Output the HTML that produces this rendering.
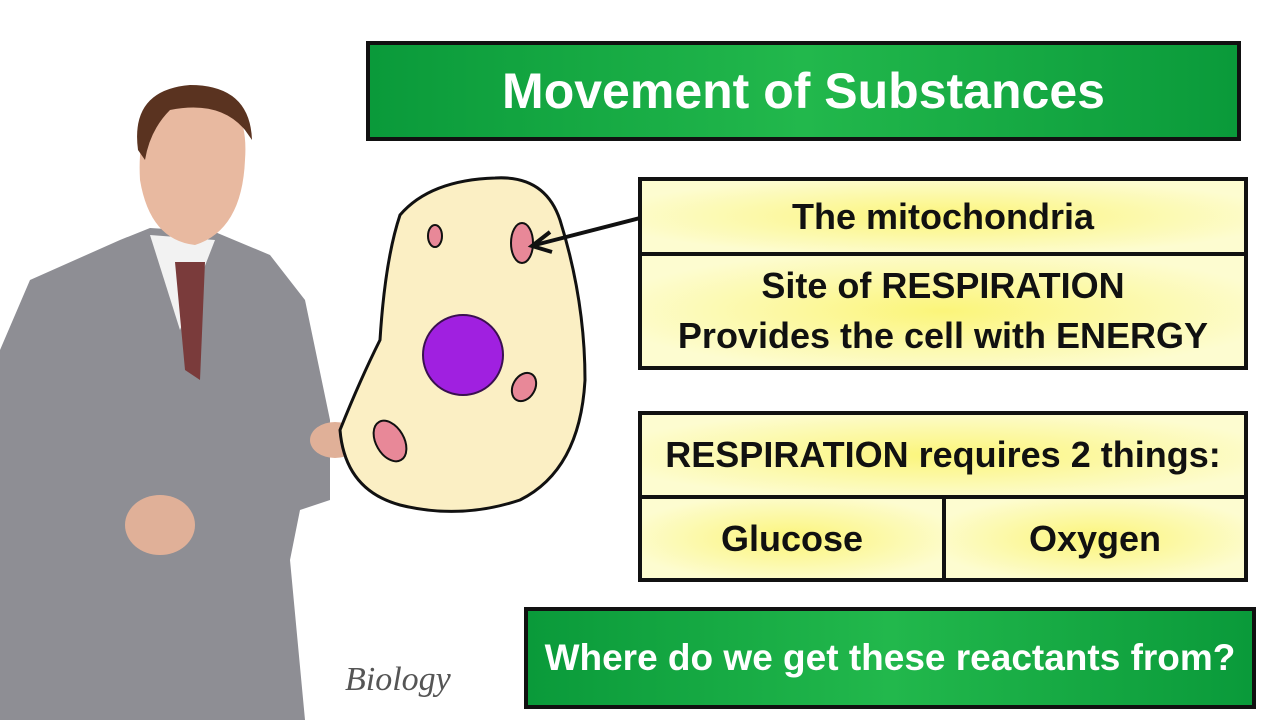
<!DOCTYPE html>
<html><head><style>
body{margin:0;width:1280px;height:720px;background:#fff;position:relative;overflow:hidden;font-family:"Liberation Sans",sans-serif;}
.b{position:absolute;box-sizing:border-box;border:4px solid #111;display:flex;align-items:center;justify-content:center;font-weight:bold;}
.g{background:linear-gradient(90deg,#0a9a3a,#22b84c 50%,#0a9a3a);color:#fff;}
.y{background:radial-gradient(ellipse at center,#fbf57a,#fdfcd0 80%);color:#111;text-align:center;}
</style></head><body>
<svg width="1280" height="720" style="position:absolute;left:0;top:0">
<path d="M0 350 L30 280 L120 240 L150 228 L215 232 L270 255 L305 300 L330 420 L330 500 L300 510 L290 560 L305 720 L0 720 Z" fill="#8e8e94"/>
<path d="M150 235 L180 330 L215 240 Z" fill="#f2f2f2"/>
<path d="M175 262 L205 262 L200 380 L185 370 Z" fill="#7a3b3b"/>
<path d="M140 180 Q135 95 195 88 Q250 92 245 160 Q242 230 195 245 Q150 240 140 180Z" fill="#e8b9a0"/>
<path d="M138 150 Q130 90 190 85 Q250 85 252 140 L245 130 Q220 100 170 110 Q150 130 145 160Z" fill="#5a3320"/>
<ellipse cx="160" cy="525" rx="35" ry="30" fill="#e0b098"/>
<ellipse cx="335" cy="440" rx="25" ry="18" fill="#e0b098"/>
<path d="M495 178 Q545 175 560 220 Q585 300 585 380 Q580 470 520 500 Q460 520 400 505 Q345 490 340 430 Q360 380 380 340 Q385 260 400 215 Q430 180 495 178Z" fill="#fbefc4" stroke="#111" stroke-width="3"/>
<ellipse cx="463" cy="355" rx="40" ry="40" fill="#a020e0" stroke="#3a1050" stroke-width="2"/>
<ellipse cx="522" cy="243" rx="11" ry="20" fill="#e88898" stroke="#111" stroke-width="2"/>
<ellipse cx="435" cy="236" rx="7" ry="11" fill="#e88898" stroke="#111" stroke-width="2"/>
<ellipse cx="524" cy="387" rx="11" ry="15" fill="#e88898" stroke="#111" stroke-width="2" transform="rotate(30 524 387)"/>
<ellipse cx="390" cy="441" rx="14" ry="22" fill="#e88898" stroke="#111" stroke-width="2" transform="rotate(-30 390 441)"/>
<line x1="640" y1="218" x2="535" y2="245" stroke="#111" stroke-width="4"/>
<path d="M550 232 L532 246 L552 252" fill="none" stroke="#111" stroke-width="4"/>
<text x="345" y="690" font-family="Liberation Serif" font-style="italic" font-size="34" fill="#555">Biology</text>
</svg>
<div class="b g" style="left:366px;top:41px;width:875px;height:100px;font-size:50px;">Movement of Substances</div>
<div class="b y" style="left:638px;top:177px;width:610px;height:79px;font-size:36px;">The mitochondria</div>
<div class="b y" style="left:638px;top:252px;width:610px;height:118px;font-size:36px;line-height:50px;flex-direction:column;">Site of RESPIRATION<br>Provides the cell with ENERGY</div>
<div class="b y" style="left:638px;top:411px;width:610px;height:88px;font-size:36px;">RESPIRATION requires 2 things:</div>
<div class="b y" style="left:638px;top:495px;width:308px;height:87px;font-size:36px;">Glucose</div>
<div class="b y" style="left:942px;top:495px;width:306px;height:87px;font-size:36px;">Oxygen</div>
<div class="b g" style="left:524px;top:607px;width:732px;height:102px;font-size:37px;">Where do we get these reactants from?</div>
</body></html>
